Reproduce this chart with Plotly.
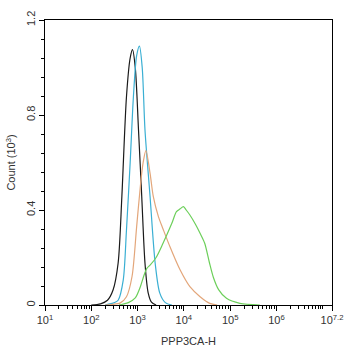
import plotly.graph_objects as go

# log10 of fluorescence intensity and counts (10^3)
black_log = [2.0, 2.2, 2.35, 2.47, 2.58, 2.66, 2.76, 2.84, 2.89, 2.95, 3.02, 3.09, 3.16, 3.23, 3.3, 3.4]
black_cnt = [0.0, 0.005, 0.02, 0.063, 0.177, 0.455, 0.877, 1.04, 1.075, 1.0, 0.737, 0.456, 0.176, 0.05, 0.012, 0.0]

cyan_log = [2.3, 2.5, 2.58, 2.69, 2.76, 2.84, 2.91, 2.98, 3.04, 3.1, 3.16, 3.27, 3.38, 3.48, 3.6, 3.74]
cyan_cnt = [0.0, 0.01, 0.02, 0.105, 0.316, 0.6, 0.877, 1.05, 1.09, 1.0, 0.737, 0.456, 0.176, 0.05, 0.01, 0.0]

orange_log = [2.3, 2.5, 2.62, 2.76, 2.88, 2.98, 3.06, 3.12, 3.18, 3.27, 3.34, 3.45, 3.55, 3.7, 3.92, 4.13, 4.35, 4.56, 4.72]
orange_cnt = [0.0, 0.004, 0.008, 0.035, 0.12, 0.33, 0.5, 0.6, 0.65, 0.554, 0.456, 0.372, 0.32, 0.245, 0.147, 0.077, 0.035, 0.007, 0.0]

green_log = [2.6, 2.8, 2.95, 3.06, 3.13, 3.2, 3.27, 3.4, 3.55, 3.74, 3.84, 3.92, 3.99, 4.05, 4.13, 4.25, 4.35, 4.45, 4.55, 4.64, 4.75, 4.92, 5.21, 5.64]
green_cnt = [0.0, 0.01, 0.03, 0.077, 0.12, 0.154, 0.168, 0.2, 0.26, 0.344, 0.393, 0.405, 0.414, 0.4, 0.379, 0.34, 0.302, 0.26, 0.18, 0.115, 0.065, 0.028, 0.007, 0.0]

x_tick_exps = [1, 2, 3, 4, 5, 6, 7.2]
x_tick_text = ["10<sup>1</sup>", "10<sup>2</sup>", "10<sup>3</sup>", "10<sup>4</sup>",
               "10<sup>5</sup>", "10<sup>6</sup>", "10<sup>7.2</sup>"]
y_ticks = [0, 0.4, 0.8, 1.2]
y_tick_text = ["0", "0.4", "0.8", "1.2"]

series = [
    (black_log, black_cnt, "#1a1a1a"),
    (cyan_log, cyan_cnt, "#3aafd3"),
    (orange_log, orange_cnt, "#e3a67a"),
    (green_log, green_cnt, "#6ccf5a"),
]

fig = go.Figure()
for lg, cnt, col in series:
    fig.add_trace(go.Scatter(
        x=[10 ** v for v in lg], y=cnt, mode="lines",
        line=dict(color=col, width=1.2, shape="spline", smoothing=0.8),
        showlegend=False, hoverinfo="skip"))

fig.update_layout(
    width=346, height=350,
    margin=dict(l=45, r=14, t=20, b=45, autoexpand=False),
    paper_bgcolor="white", plot_bgcolor="white",
    font=dict(family="Liberation Sans, Arial, sans-serif", size=11, color="#333333"),
)
fig.update_xaxes(
    type="log", range=[1, 7.2], automargin=False,
    tickvals=[10 ** e for e in x_tick_exps], ticktext=x_tick_text,
    ticks="outside", ticklen=5, tickcolor="black", tickwidth=1,
    minor=dict(ticks="outside", ticklen=3, tickcolor="black", dtick="D1"),
    showline=True, linecolor="black", linewidth=1.2, mirror=True,
    showgrid=False, zeroline=False,
    title=dict(text="PPP3CA-H", font=dict(size=11), standoff=12),
)
fig.update_yaxes(
    range=[0, 1.2], automargin=False,
    tickvals=y_ticks, ticktext=y_tick_text, tickangle=-90,
    ticks="outside", ticklen=5, tickcolor="black", tickwidth=1,
    minor=dict(ticks="outside", ticklen=3, tickcolor="black", dtick=0.08),
    showline=True, linecolor="black", linewidth=1.2, mirror=True,
    showgrid=False, zeroline=False,
    title=dict(text="Count (10<sup>3</sup>)", font=dict(size=11), standoff=6),
)

fig.write_html("out.html", config={"displayModeBar": False},
               post_script="document.body.style.margin='0';")
